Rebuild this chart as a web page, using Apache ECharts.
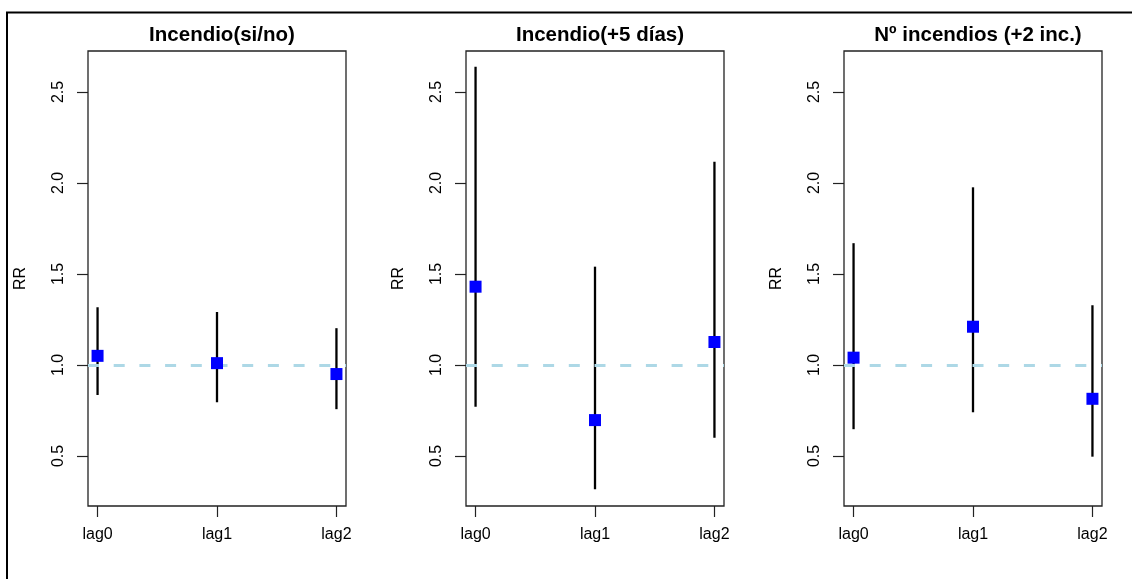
<!DOCTYPE html>
<html>
<head>
<meta charset="utf-8">
<script src="https://cdn.jsdelivr.net/npm/echarts@6/dist/echarts.min.js"></script>
<style>
html,body{margin:0;padding:0;background:#fff;}
#chart{width:1132px;height:579px;}
</style>
</head>
<body>
<div id="chart"></div>
<script>
// ---- data ----
const categories = ['lag0', 'lag1', 'lag2'];
const panelTitles = ['Incendio(si/no)', 'Incendio(+5 días)', 'Nº incendios (+2 inc.)'];
const yTicks = [0.5, 1.0, 1.5, 2.0, 2.5];
const refValue = 1.0;

const rr1 = [1.05, 1.01, 0.95];
const lo1 = [0.835, 0.795, 0.757];
const hi1 = [1.317, 1.291, 1.202];

const rr2 = [1.43, 0.697, 1.126];
const lo2 = [0.771, 0.317, 0.60];
const hi2 = [2.639, 1.540, 2.117];

const rr3 = [1.04, 1.21, 0.814];
const lo3 = [0.647, 0.74, 0.496];
const hi3 = [1.669, 1.976, 1.328];

const panels = [
  { rr: rr1, lo: lo1, hi: hi1 },
  { rr: rr2, lo: lo2, hi: hi2 },
  { rr: rr3, lo: lo3, hi: hi3 }
];

// ---- layout ----
const FONT = 'Liberation Sans, Arial, Helvetica, sans-serif';
const gridLefts = [88, 466, 844];
const gridW = 258, gridTop = 51, gridH = 455;
const xPos = categories.map((c, i) => i + 1);

const chart = echarts.init(document.getElementById('chart'), null, { renderer: 'canvas' });

const grids = [], xAxes = [], yAxes = [], series = [], titles = [];

panels.forEach((p, k) => {
  grids.push({
    left: gridLefts[k], top: gridTop, width: gridW, height: gridH,
    show: true, borderColor: '#222', borderWidth: 1.3, backgroundColor: 'transparent',
    containLabel: false
  });
  titles.push({
    text: panelTitles[k],
    left: gridLefts[k] + gridW / 2,
    top: 20,
    textAlign: 'center',
    textStyle: { fontFamily: FONT, fontSize: 20.5, fontWeight: 'bold', color: '#000' }
  });
  xAxes.push({
    type: 'value', gridIndex: k, min: 0.92, max: 3.08,
    axisLine: { show: false },
    splitLine: { show: false },
    axisTick: { show: true, inside: false, length: 11, customValues: xPos, lineStyle: { color: '#222', width: 1.2 } },
    axisLabel: {
      show: true, customValues: xPos, margin: 21,
      formatter: v => categories[Math.round(v) - 1],
      fontFamily: FONT, fontSize: 16, color: '#000'
    }
  });
  yAxes.push({
    type: 'value', gridIndex: k, min: 0.225, max: 2.725,
    name: 'RR', nameLocation: 'middle', nameRotate: 90, nameGap: 59,
    nameTextStyle: { fontFamily: FONT, fontSize: 16, color: '#000' },
    axisLine: { show: false },
    splitLine: { show: false },
    axisTick: { show: true, inside: false, length: 11, customValues: yTicks, lineStyle: { color: '#222', width: 1.2 } },
    axisLabel: {
      show: true, customValues: yTicks, rotate: 90, margin: 21,
      formatter: v => v.toFixed(1),
      fontFamily: FONT, fontSize: 16, color: '#000'
    }
  });

  // reference dashed line
  series.push({
    type: 'line', xAxisIndex: k, yAxisIndex: k, data: [],
    silent: true,
    markLine: {
      silent: true, symbol: 'none', animation: false,
      label: { show: false },
      lineStyle: { color: '#ADD8E6', width: 3, type: [11, 14.7], opacity: 1 },
      emphasis: { disabled: true },
      data: [{ yAxis: refValue }]
    }
  });

  // whiskers
  series.push({
    type: 'custom', xAxisIndex: k, yAxisIndex: k,
    data: xPos.map((x, i) => [x, p.lo[i], p.hi[i]]),
    renderItem: (params, api) => {
      const a = api.coord([api.value(0), api.value(1)]);
      const b = api.coord([api.value(0), api.value(2)]);
      return {
        type: 'line',
        shape: { x1: a[0], y1: a[1], x2: b[0], y2: b[1] },
        style: { stroke: '#000', lineWidth: 2.3 }
      };
    },
    animation: false
  });

  // point estimates
  series.push({
    type: 'scatter', xAxisIndex: k, yAxisIndex: k,
    data: xPos.map((x, i) => [x, p.rr[i]]),
    symbol: 'rect', symbolSize: 12,
    itemStyle: { color: '#0000FF', opacity: 1 },
    animation: false, z: 5
  });
});

chart.setOption({
  animation: false,
  backgroundColor: '#fff',
  title: titles,
  grid: grids,
  xAxis: xAxes,
  yAxis: yAxes,
  series: series,
  graphic: [{
    type: 'rect', silent: true, z: 100,
    shape: { x: 7, y: 12.5, width: 1300, height: 800 },
    style: { fill: 'none', stroke: '#000', lineWidth: 2 }
  }]
});
</script>
</body>
</html>
